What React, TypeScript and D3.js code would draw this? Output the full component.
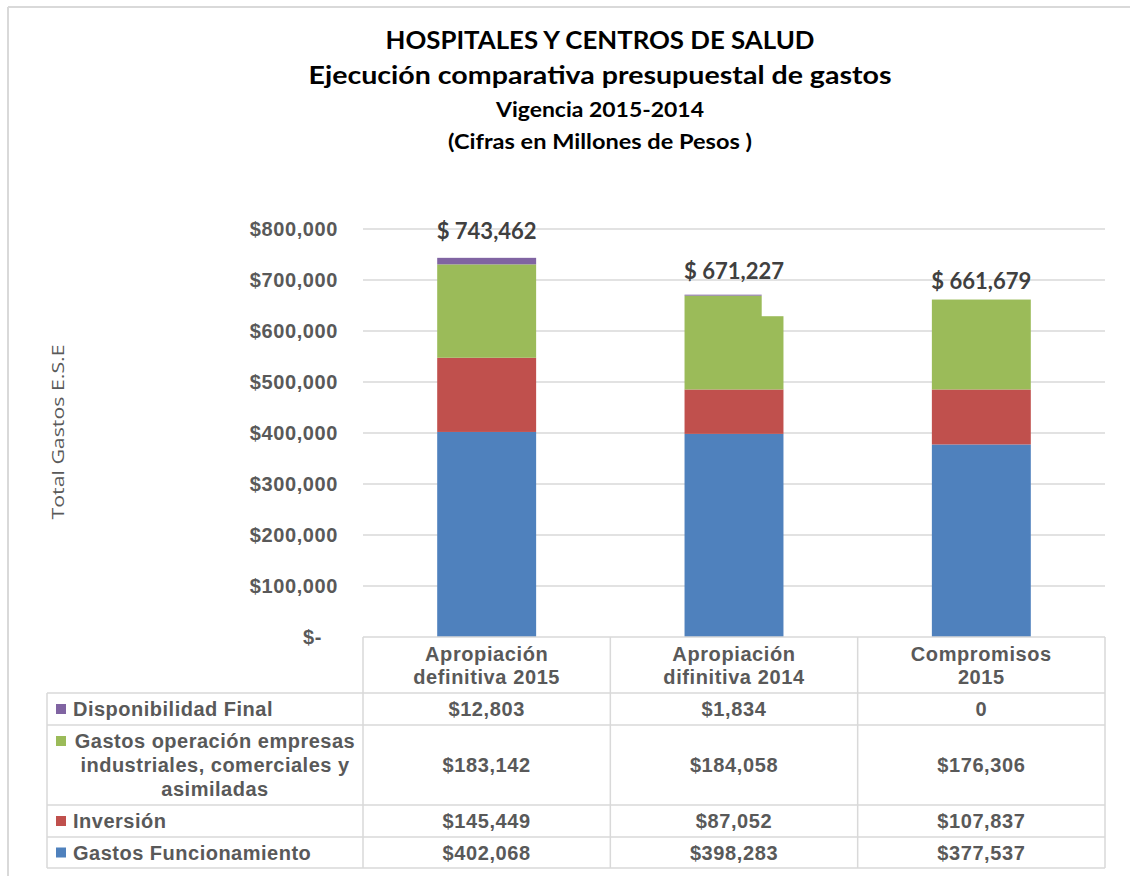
import React from "react";
import * as d3 from "d3";

// ---- Data ----
const categories = ["Apropiación definitiva 2015", "Apropiación difinitiva 2014", "Compromisos 2015"];
const categoryLines = [["Apropiación", "definitiva 2015"], ["Apropiación", "difinitiva 2014"], ["Compromisos", "2015"]];
const seriesKeys = ["funcionamiento", "inversion", "operacion", "disponibilidad"];
const seriesLines = [
  ["Gastos Funcionamiento"],
  ["Inversión"],
  ["Gastos operación empresas", "industriales, comerciales y", "asimiladas"],
  ["Disponibilidad Final"],
];
const gastosFuncionamiento = [402068, 398283, 377537];
const inversion = [145449, 87052, 107837];
const gastosOperacion = [183142, 184058, 176306];
const disponibilidadFinal = [12803, 1834, 0];
const totals = [743462, 671227, 661679];
const yTicks = [0, 100000, 200000, 300000, 400000, 500000, 600000, 700000, 800000];
const titleLines = [
  "HOSPITALES Y CENTROS DE SALUD",
  "Ejecución comparativa presupuestal de gastos",
  "Vigencia 2015-2014",
  "(Cifras en Millones de Pesos )",
];

// ---- Styles ----
const colors = ["#4f81bd", "#c0504d", "#9bbb59", "#8064a2"];
const grid = "#d9d9d9";
const textGrey = "#595959";
const font = "'Liberation Sans', Arial, sans-serif";
const titleFont = "Lato, 'Open Sans', sans-serif";

export default function App() {
  const W = 1130, H = 876;
  const plotLeft = 363, plotRight = 1105;
  const y = d3.scaleLinear().domain([0, 800000]).range([637, 229]);
  const x = d3.scaleBand<string>().domain(categories).range([plotLeft, plotRight]).padding(0);
  const bw = x.bandwidth();
  const barW = bw * 0.4;
  const barOff = bw * 0.3;

  const rows = categories.map((c, i) => ({
    cat: c,
    funcionamiento: gastosFuncionamiento[i],
    inversion: inversion[i],
    operacion: gastosOperacion[i],
    disponibilidad: disponibilidadFinal[i],
  }));
  const stacked = d3.stack<any>().keys(seriesKeys)(rows);
  const fmt = d3.format(",");
  const money = (v: number) => (v === 0 ? "0" : "$" + fmt(v));

  // table layout (top to bottom: reversed series order)
  const tableLeft = 47;
  const headerTop = 637;
  const rowBounds = [693, 725, 805, 837, 868];
  const tableOrder = [3, 2, 1, 0];
  const seriesValues = [gastosFuncionamiento, inversion, gastosOperacion, disponibilidadFinal];
  const labelOffsets = [19, 16, 11];
  const titleY = [49, 84, 117, 149];
  const titleSize = [25, 25, 21, 21];
  const titleLen = [429, 583, 208, 304];

  return (
    <svg width={W} height={H} style={{ position: "absolute", left: 0, top: 0, background: "#fff" }}>
      {/* frame */}
      <line x1={8} y1={7} x2={W} y2={7} stroke={grid} strokeWidth={2} />
      <line x1={8} y1={7} x2={8} y2={H} stroke={grid} strokeWidth={2} />

      {/* title */}
      {titleLines.map((t, i) => (
        <text key={i} x={600} y={titleY[i]} textAnchor="middle" fontFamily={titleFont} fontWeight={700}
          fontSize={titleSize[i]} fill="#000" textLength={titleLen[i]} lengthAdjust="spacingAndGlyphs">{t}</text>
      ))}

      {/* gridlines */}
      {yTicks.filter((t) => t > 0).map((t) => (
        <line key={t} x1={plotLeft} x2={plotRight} y1={y(t)} y2={y(t)} stroke={grid} strokeWidth={1.5} />
      ))}

      {/* y tick labels */}
      {yTicks.map((t) => (
        <text key={t} x={t === 0 ? 322 : 338} y={y(t) + 7} textAnchor="end" fontFamily={font} fontWeight={700}
          fontSize={20} letterSpacing={0.6} fill={textGrey}>{t === 0 ? "$-" : "$" + fmt(t)}</text>
      ))}

      {/* y axis title */}
      <text transform={`translate(64,432) rotate(-90)`} textAnchor="middle" fontFamily="'Open Sans', sans-serif"
        fontSize={16} fill={textGrey} textLength={175} lengthAdjust="spacingAndGlyphs">Total Gastos  E.S.E</text>

      {/* bars */}
      {stacked.map((s, si) => (
        <g key={s.key} fill={colors[si]}>
          {s.map((d, i) => (
            <rect key={i} x={(x(categories[i]) as number) + barOff} width={barW}
              y={y(d[1])} height={Math.max(0, y(d[0]) - y(d[1]))} />
          ))}
        </g>
      ))}

      {/* rendering notch present in the source image on the second bar */}
      <rect x={(x(categories[1]) as number) + barOff + barW * 0.78} width={barW * 0.22 + 1}
        y={y(totals[1]) - 2} height={y(629000) - y(totals[1]) + 2} fill="#fff" />

      {/* total labels */}
      {totals.map((t, i) => (
        <text key={i} x={(x(categories[i]) as number) + bw / 2} y={y(t) - labelOffsets[i]} textAnchor="middle"
          fontFamily={titleFont} fontWeight={700} fontSize={23} fill="#404040" textLength={100}
          lengthAdjust="spacingAndGlyphs">{"$ " + fmt(t)}</text>
      ))}

      {/* data table */}
      <g stroke={grid} strokeWidth={1.5}>
        <line x1={plotLeft} x2={plotRight} y1={headerTop} y2={headerTop} />
        {rowBounds.map((b, i) => (
          <line key={i} x1={tableLeft} x2={plotRight} y1={b} y2={b} />
        ))}
        <line x1={tableLeft} x2={tableLeft} y1={rowBounds[0]} y2={rowBounds[4]} />
        {categories.map((c) => (
          <line key={c} x1={x(c)} x2={x(c)} y1={headerTop} y2={rowBounds[4]} />
        ))}
        <line x1={plotRight} x2={plotRight} y1={headerTop} y2={rowBounds[4]} />
      </g>

      {/* header text */}
      {categoryLines.map((lines, i) => (
        <g key={i}>
          {lines.map((l, j) => (
            <text key={j} x={(x(categories[i]) as number) + bw / 2} y={661 + j * 23} textAnchor="middle"
              fontFamily={font} fontWeight={700} fontSize={20} letterSpacing={0.6} fill={textGrey}>{l}</text>
          ))}
        </g>
      ))}

      {/* rows */}
      {tableOrder.map((si, ri) => {
        const top = rowBounds[ri];
        const bottom = rowBounds[ri + 1];
        const mid = (top + bottom) / 2;
        const lines = seriesLines[si];
        const firstCenter = mid - ((lines.length - 1) * 24) / 2;
        return (
          <g key={si}>
            <rect x={56} y={firstCenter - 5} width={10} height={10} fill={colors[si]} />
            {lines.map((l, j) => (
              <text key={j} x={lines.length > 1 ? 215 : 73} y={firstCenter + j * 24 + 7}
                textAnchor={lines.length > 1 ? "middle" : "start"} fontFamily={font} fontWeight={700}
                fontSize={20} letterSpacing={0.5} fill={textGrey}>{l}</text>
            ))}
            {categories.map((c, ci) => (
              <text key={c} x={(x(c) as number) + bw / 2} y={mid + 7} textAnchor="middle" fontFamily={font}
                fontWeight={700} fontSize={20} letterSpacing={0.6} fill={textGrey}>{money(seriesValues[si][ci])}</text>
            ))}
          </g>
        );
      })}
    </svg>
  );
}
